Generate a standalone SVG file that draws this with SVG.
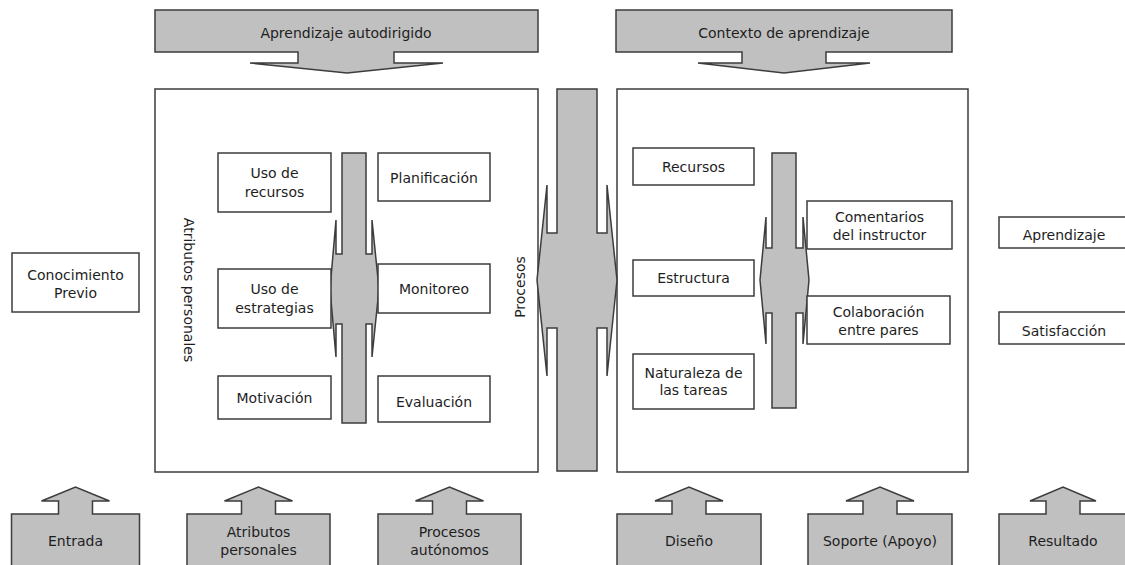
<svg xmlns="http://www.w3.org/2000/svg" width="1125" height="565" viewBox="0 0 1125 565">
<style>
.box{fill:#ffffff;stroke:#3c3c3c;stroke-width:1.5}
.gray{fill:#c0c0c0;stroke:#3c3c3c;stroke-width:1.5;stroke-linejoin:miter}
.ln{fill:none;stroke:#3c3c3c;stroke-width:1.5}
text{font-family:"DejaVu Sans","Liberation Sans",sans-serif;font-size:14px;fill:#1e1e1e;text-anchor:middle}
</style>
<rect width="1125" height="565" fill="#ffffff"/>

<g id="connectors">
  <path class="ln" d="M218,169 H203 V407 H218 M203,281 H218"/>
  <path class="ln" d="M490,169 H506 V407 H490 M506,281 H490"/>
</g>

<g id="banner-aprendizaje-autodirigido">
  <path class="gray" d="M155,10 H538 V52 H394 V63 H443 L347,73 L250,63 H298 V52 H155 Z"/>
  <text x="346" y="38">Aprendizaje autodirigido</text>
</g>
<g id="banner-contexto">
  <path class="gray" d="M616,10 H952 V52 H826 V63 H870 L784,73 L698,63 H742 V52 H616 Z"/>
  <text x="784" y="38">Contexto de aprendizaje</text>
</g>

<g id="panel-left">
  <rect class="box" x="155" y="89" width="383" height="383"/>
</g>
<g id="panel-right">
  <rect class="box" x="617" y="89" width="351" height="383"/>
</g>

<g id="arrow-center">
  <path class="gray" d="M557,89 H597 V233 H607 V185 L617,280 L607,376 V328 H597 V471 H557 V328 H547 V376 L537,280 L547,185 V233 H557 Z"/>
</g>
<g id="arrow-inner-left">
  <path class="gray" d="M342,153 H366 V254 H372 V220 L379,289 L372,357 V324 H366 V423 H342 V324 H336 V357 L330,289 L336,220 V254 H342 Z"/>
</g>
<g id="arrow-inner-right">
  <path class="gray" d="M772,153 H796 V248 H803 V217 L809,280 L803,344 V313 H796 V408 H772 V313 H766 V344 L760,280 L766,217 V248 H772 Z"/>
</g>

<g id="label-atributos">
  <text transform="translate(189,290) rotate(90)" y="5">Atributos personales</text>
</g>
<g id="label-procesos">
  <text transform="translate(520,287) rotate(-90)" y="5">Procesos</text>
</g>

<g id="uso-recursos">
  <rect class="box" x="218" y="153" width="113" height="59"/>
  <text x="274.5" y="178">Uso de</text>
  <text x="274.5" y="197">recursos</text>
</g>
<g id="uso-estrategias">
  <rect class="box" x="218" y="269" width="113" height="59"/>
  <text x="274.5" y="294">Uso de</text>
  <text x="274.5" y="313">estrategias</text>
</g>
<g id="motivacion">
  <rect class="box" x="218" y="376" width="113" height="43"/>
  <text x="274.5" y="403">Motivación</text>
</g>
<g id="planificacion">
  <rect class="box" x="378" y="153" width="112" height="48"/>
  <text x="434" y="183">Planificación</text>
</g>
<g id="monitoreo">
  <rect class="box" x="378" y="264" width="112" height="49"/>
  <text x="434" y="294">Monitoreo</text>
</g>
<g id="evaluacion">
  <rect class="box" x="378" y="376" width="112" height="46"/>
  <text x="434" y="407">Evaluación</text>
</g>

<g id="recursos">
  <rect class="box" x="633" y="148" width="121" height="37"/>
  <text x="693.5" y="172">Recursos</text>
</g>
<g id="estructura">
  <rect class="box" x="633" y="260" width="121" height="36"/>
  <text x="693.5" y="283">Estructura</text>
</g>
<g id="naturaleza">
  <rect class="box" x="633" y="354" width="121" height="55"/>
  <text x="693.5" y="378">Naturaleza de</text>
  <text x="693.5" y="395">las tareas</text>
</g>
<g id="comentarios">
  <rect class="box" x="807" y="201" width="145" height="48"/>
  <text x="879.5" y="222">Comentarios</text>
  <text x="879.5" y="240">del instructor</text>
</g>
<g id="colaboracion">
  <rect class="box" x="807" y="296" width="143" height="48"/>
  <text x="878.5" y="317">Colaboración</text>
  <text x="878.5" y="335">entre pares</text>
</g>

<g id="conocimiento-previo">
  <rect class="box" x="12" y="253" width="127" height="59"/>
  <text x="75.5" y="280">Conocimiento</text>
  <text x="75.5" y="298">Previo</text>
</g>
<g id="aprendizaje">
  <rect class="box" x="999" y="217" width="130" height="31"/>
  <text x="1064" y="240">Aprendizaje</text>
</g>
<g id="satisfaccion">
  <rect class="box" x="999" y="312" width="130" height="32"/>
  <text x="1064" y="336">Satisfacción</text>
</g>

<g id="entrada">
  <path class="gray" d="M11.5,567 V514 H58.5 V501 H41.5 L75.5,487 L109.5,501 H92.5 V514 H139.5 V567 Z"/>
  <text x="75.5" y="546">Entrada</text>
</g>
<g id="atributos-personales">
  <path class="gray" d="M187,567 V514 H241.5 V501 H224.5 L258.5,487 L292.5,501 H275.5 V514 H330 V567 Z"/>
  <text x="258.5" y="537">Atributos</text>
  <text x="258.5" y="555">personales</text>
</g>
<g id="procesos-autonomos">
  <path class="gray" d="M378,567 V514 H432.5 V501 H415.5 L449.5,487 L483.5,501 H466.5 V514 H521 V567 Z"/>
  <text x="449.5" y="537">Procesos</text>
  <text x="449.5" y="555">autónomos</text>
</g>
<g id="diseno">
  <path class="gray" d="M617,567 V514 H672 V501 H655 L689,487 L723,501 H706 V514 H761 V567 Z"/>
  <text x="689" y="546">Diseño</text>
</g>
<g id="soporte">
  <path class="gray" d="M808,567 V514 H863 V501 H846 L880,487 L914,501 H897 V514 H952 V567 Z"/>
  <text x="880" y="546">Soporte (Apoyo)</text>
</g>
<g id="resultado">
  <path class="gray" d="M999,567 V514 H1046 V501 H1030 L1063,487 L1096,501 H1080 V514 H1130 V567 Z"/>
  <text x="1063" y="546">Resultado</text>
</g>
</svg>
